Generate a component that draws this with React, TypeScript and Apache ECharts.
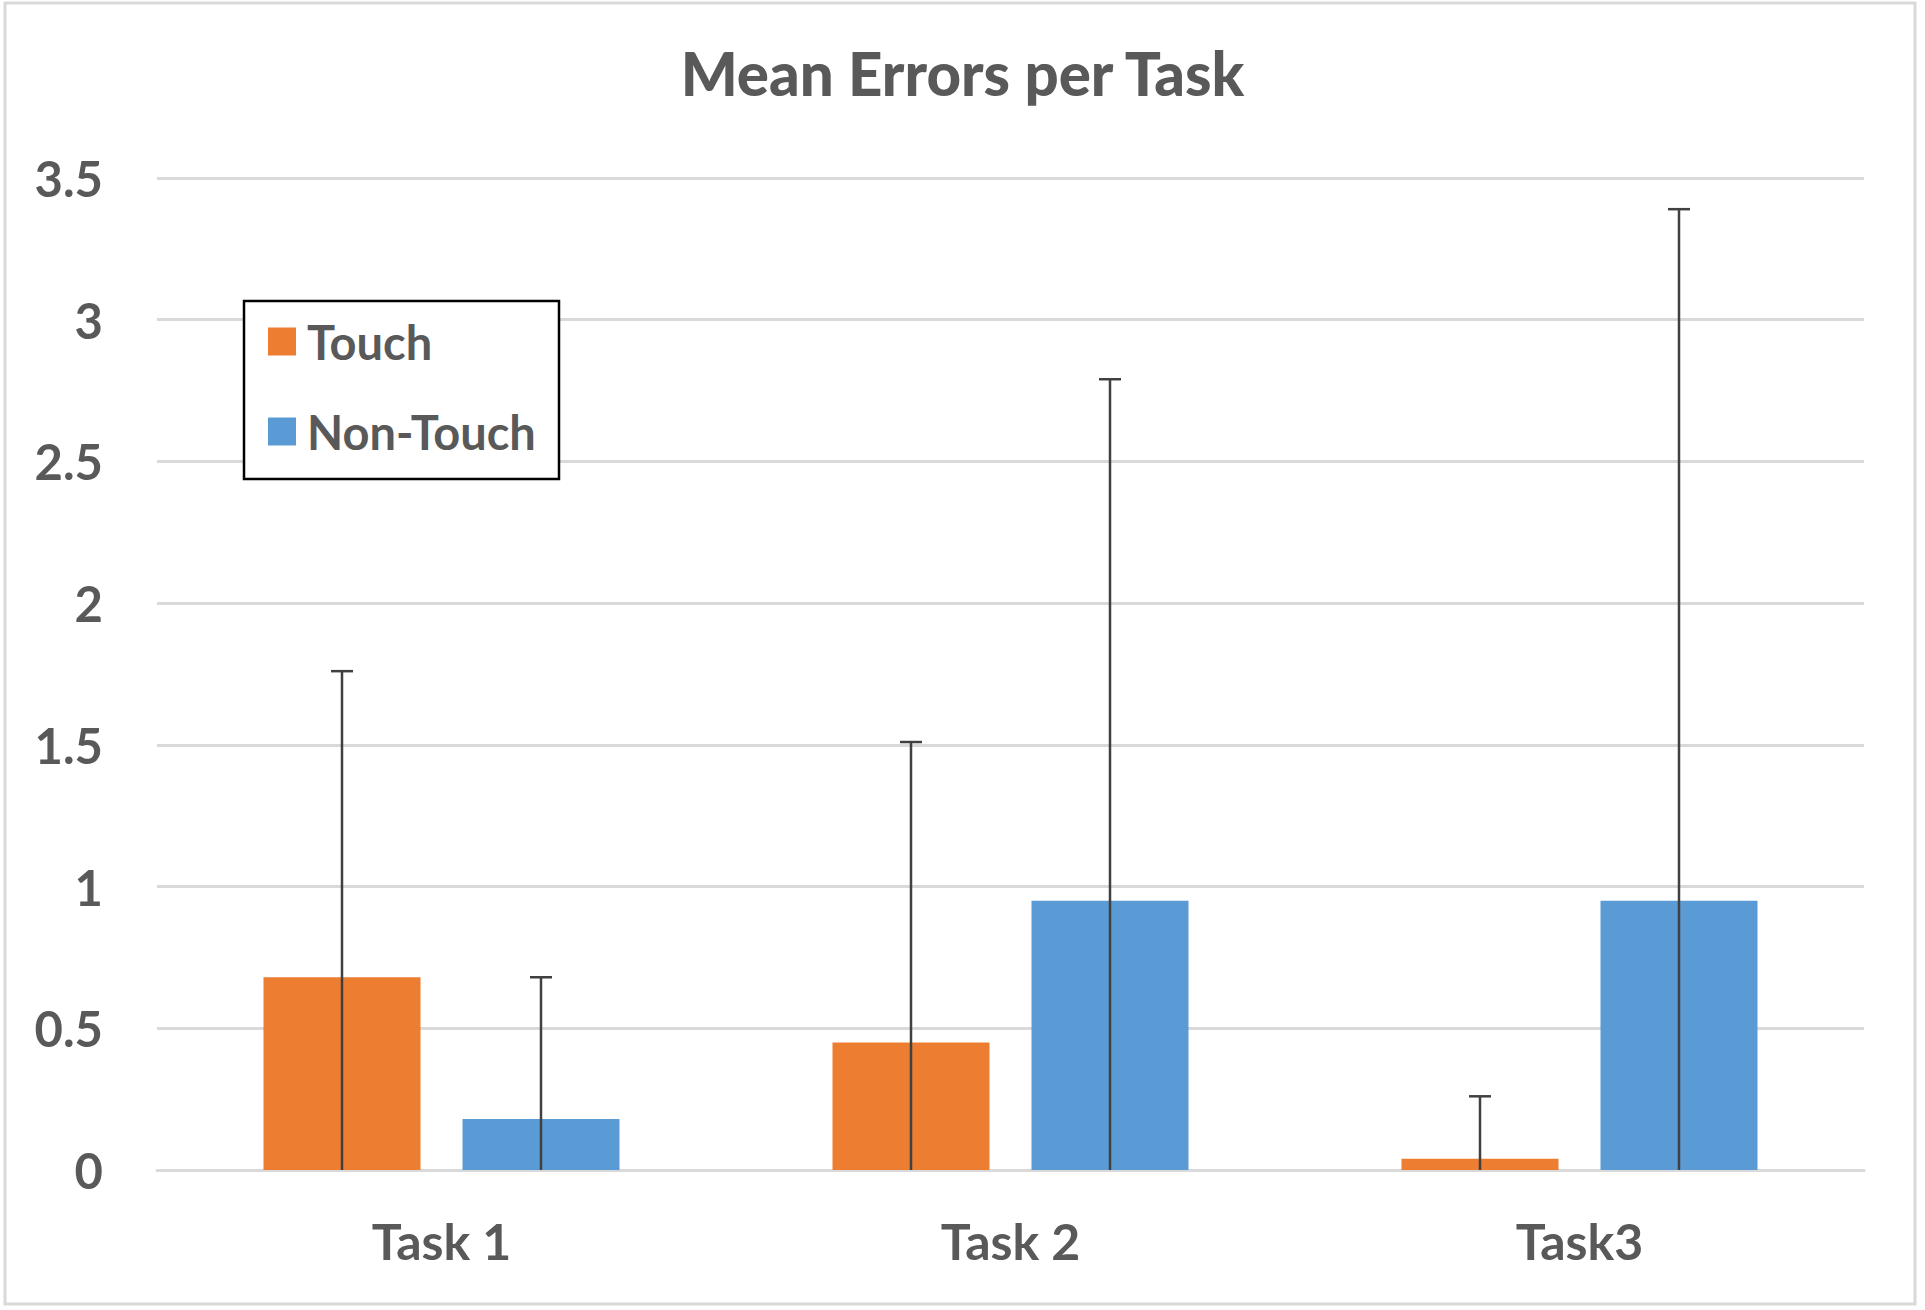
import React, { useEffect, useRef } from "react";
import * as echarts from "echarts";

const categories = ["Task 1", "Task 2", "Task3"];
const seriesNames = ["Touch", "Non-Touch"];
const touchMeans = [0.68, 0.45, 0.04];
const touchErr = [1.08, 1.06, 0.22];
const nonTouchMeans = [0.18, 0.95, 0.95];
const nonTouchErr = [0.5, 1.84, 2.44];
const yTicks = { min: 0, max: 3.5, interval: 0.5 };

const FONT = "Lato";
const TEXT = "#595959";
const BAR_W = 157;
const BAR_GAP_PX = 42;

function errData(means: number[], errs: number[]) {
  return means.map((m, i) => [i, Math.max(0, m - errs[i]), m + errs[i]]);
}

function errSeries(name: string, means: number[], errs: number[], offset: number) {
  return {
    type: "custom",
    name: name + " err",
    z: 5,
    encode: { x: 0, y: [1, 2] },
    data: errData(means, errs),
    renderItem: (params: any, api: any) => {
      const ci = api.value(0);
      const top = api.coord([ci, api.value(2)]);
      const bot = api.coord([ci, api.value(1)]);
      const x = top[0] + offset;
      const style = { stroke: "#404040", lineWidth: 2.5 };
      return {
        type: "group",
        children: [
          { type: "line", shape: { x1: x, y1: top[1], x2: x, y2: bot[1] }, style },
          { type: "line", shape: { x1: x - 11, y1: top[1], x2: x + 11, y2: top[1] }, style },
        ],
      };
    },
  };
}

export default function App() {
  const ref = useRef<HTMLDivElement>(null);
  useEffect(() => {
    document.body.style.margin = "0";
    const chart = echarts.init(ref.current!, null, { renderer: "svg" });
    const off = (BAR_W + BAR_GAP_PX) / 2;
    chart.setOption({
      animation: false,
      backgroundColor: "#ffffff",
      title: {
        text: "Mean Errors per Task",
        left: "center",
        top: 38,
        textStyle: { fontFamily: FONT, fontWeight: 900, fontSize: 60, color: TEXT },
      },
      graphic: [
        {
          type: "rect",
          shape: { x: 5, y: 3, width: 1910, height: 1301 },
          style: { fill: "none", stroke: "#d9d9d9", lineWidth: 3 },
          z: 1,
        },
        {
          type: "rect",
          shape: { x: 244, y: 301, width: 315, height: 178 },
          style: { fill: "#ffffff", stroke: "#000000", lineWidth: 2.5 },
          z: 3,
        },
      ],
      legend: {
        data: seriesNames,
        orient: "vertical",
        left: 244,
        top: 301,
        padding: [17, 20, 20, 24],
        itemWidth: 28,
        itemHeight: 28,
        itemGap: 43,
        icon: "rect",
        z: 4,
        textStyle: { fontFamily: FONT, fontWeight: "bold", fontSize: 47, color: TEXT, padding: [0, 0, 0, 6] },
      },
      grid: { left: 157, right: 61, top: 178, bottom: 140, containLabel: false },
      xAxis: {
        type: "category",
        data: categories,
        axisLine: { show: true, lineStyle: { color: "#d9d9d9", width: 3 } },
        axisTick: { show: false },
        axisLabel: { fontFamily: FONT, fontWeight: "bold", fontSize: 50, color: TEXT, margin: 46 },
      },
      yAxis: {
        type: "value",
        min: yTicks.min,
        max: yTicks.max,
        interval: yTicks.interval,
        axisLine: { show: false },
        axisTick: { show: false },
        splitLine: { lineStyle: { color: "#d9d9d9", width: 3 } },
        axisLabel: { fontFamily: FONT, fontWeight: "bold", fontSize: 49, color: TEXT, margin: 54 },
      },
      series: [
        {
          type: "bar",
          name: seriesNames[0],
          data: touchMeans,
          barWidth: BAR_W,
          barGap: (BAR_GAP_PX / BAR_W) * 100 + "%",
          itemStyle: { color: "#ED7D31" },
          z: 2,
        },
        {
          type: "bar",
          name: seriesNames[1],
          data: nonTouchMeans,
          barWidth: BAR_W,
          barGap: (BAR_GAP_PX / BAR_W) * 100 + "%",
          itemStyle: { color: "#5B9BD5" },
          z: 2,
        },
        errSeries(seriesNames[0], touchMeans, touchErr, -off),
        errSeries(seriesNames[1], nonTouchMeans, nonTouchErr, off),
      ],
    });
    return () => chart.dispose();
  }, []);
  return <div ref={ref} style={{ width: 1925, height: 1310 }} />;
}
